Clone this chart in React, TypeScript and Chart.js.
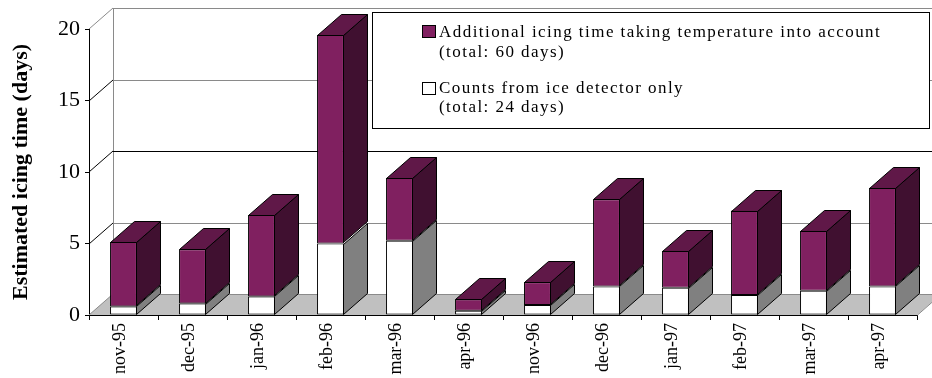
import { useEffect, useRef } from "react";
import { Chart, registerables } from "chart.js";

Chart.register(...registerables);

// Monthly icing time estimates (days)
const months = [
  "nov-95", "dec-95", "jan-96", "feb-96", "mar-96", "apr-96",
  "nov-96", "dec-96", "jan-97", "feb-97", "mar-97", "apr-97",
];
const detectorDays = [0.6, 0.8, 1.3, 5.0, 5.2, 0.3, 0.7, 2.0, 1.9, 1.4, 1.7, 2.0];
const additionalDays = [4.5, 3.8, 5.7, 14.6, 4.4, 0.8, 1.6, 6.1, 2.6, 5.9, 4.2, 6.9];

const yMax = 20;
const yStep = 5;

const legendItems = [
  { lines: ["Additional icing time taking temperature into account", "(total: 60 days)"], fill: "#802060" },
  { lines: ["Counts from ice detector only", "(total: 24 days)"], fill: "#ffffff" },
];

const SERIF = '"Liberation Serif", "Times New Roman", Times, serif';

// depth of the pseudo-3D box
const DX = 24;
const DY = 21;

const sideColors = ["#808080", "#401030"];
const topColors = ["#c0c0c0", "#601848"];

const wallLineColor = (v: number) => (v === 10 ? "#000000" : "#8a8a8a");
const diagLineColor = (v: number) => (v === 0 || v === yMax ? "#8a8a8a" : "#000000");

const depthPlugin = {
  id: "depth3d",
  beforeDatasetsDraw(chart: any) {
    const { ctx, chartArea, scales } = chart;
    const { left, right, bottom } = chartArea;
    const y = scales.y;
    ctx.save();
    ctx.lineWidth = 1;

    // floor
    const fb = Math.round(bottom);
    ctx.beginPath();
    ctx.moveTo(left, fb);
    ctx.lineTo(right, fb);
    ctx.lineTo(right + DX, fb - DY);
    ctx.lineTo(left + DX, fb - DY);
    ctx.closePath();
    ctx.fillStyle = "#c0c0c0";
    ctx.fill();
    ctx.strokeStyle = "#8a8a8a";
    ctx.beginPath();
    ctx.moveTo(right + 0.5, fb);
    ctx.lineTo(right + DX + 0.5, fb - DY);
    ctx.stroke();

    // back wall left edge
    const topPx = Math.round(y.getPixelForValue(yMax));
    ctx.strokeStyle = "#8a8a8a";
    ctx.beginPath();
    ctx.moveTo(left + DX + 0.5, topPx - DY);
    ctx.lineTo(left + DX + 0.5, fb - DY);
    ctx.stroke();

    // gridlines on the back wall and the side wall
    y.ticks.forEach((t: any) => {
      const v = t.value;
      const py = Math.round(y.getPixelForValue(v));
      ctx.strokeStyle = wallLineColor(v);
      ctx.beginPath();
      ctx.moveTo(left + DX, py - DY + 0.5);
      ctx.lineTo(right + DX + 20, py - DY + 0.5);
      ctx.stroke();
      ctx.strokeStyle = diagLineColor(v);
      ctx.beginPath();
      ctx.moveTo(left, py);
      ctx.lineTo(left + DX, py - DY);
      ctx.stroke();
    });
    ctx.restore();
  },
  afterDatasetsDraw(chart: any) {
    const { ctx } = chart;
    const n = chart.data.datasets.length;
    ctx.save();
    ctx.lineWidth = 1;
    ctx.strokeStyle = "#000000";
    ctx.lineJoin = "miter";
    for (let i = 0; i < n; i++) {
      const meta = chart.getDatasetMeta(i);
      meta.data.forEach((bar: any) => {
        const { x, y, base, width } = bar.getProps(["x", "y", "base", "width"], true);
        const xl = Math.round(x - width / 2) + 0.5;
        const xr = Math.round(x + width / 2) - 0.5;
        const yt = Math.round(y) + 0.5;
        const yb = Math.round(base) - 0.5;
        // right side face
        ctx.beginPath();
        ctx.moveTo(xr, yt);
        ctx.lineTo(xr + DX, yt - DY);
        ctx.lineTo(xr + DX, yb - DY);
        ctx.lineTo(xr, yb);
        ctx.closePath();
        ctx.fillStyle = sideColors[i];
        ctx.fill();
        ctx.stroke();
        // top face on the upper segment
        if (i === n - 1) {
          ctx.beginPath();
          ctx.moveTo(xl, yt);
          ctx.lineTo(xr, yt);
          ctx.lineTo(xr + DX, yt - DY);
          ctx.lineTo(xl + DX, yt - DY);
          ctx.closePath();
          ctx.fillStyle = topColors[i];
          ctx.fill();
          ctx.stroke();
        }
      });
    }
    ctx.restore();
  },
  afterDraw(chart: any) {
    const { ctx } = chart;
    ctx.save();
    // legend box
    const bx = 372.5, by = 12.5, bw = 557, bh = 116;
    ctx.fillStyle = "#ffffff";
    ctx.fillRect(bx, by, bw, bh);
    ctx.strokeStyle = "#000000";
    ctx.lineWidth = 1;
    ctx.strokeRect(bx, by, bw, bh);

    ctx.font = `17px ${SERIF}`;
    (ctx as any).letterSpacing = "1.45px";
    ctx.textBaseline = "alphabetic";
    ctx.textAlign = "left";
    const rows = [
      { swatchY: 25, baselines: [37, 57] },
      { swatchY: 82, baselines: [93, 112] },
    ];
    legendItems.forEach((item, i) => {
      const r = rows[i];
      ctx.fillStyle = item.fill;
      ctx.fillRect(422.5, r.swatchY + 0.5, 13, 12);
      ctx.strokeStyle = "#000000";
      ctx.strokeRect(422.5, r.swatchY + 0.5, 13, 12);
      ctx.fillStyle = "#000000";
      item.lines.forEach((line, k) => ctx.fillText(line, 439, r.baselines[k]));
    });
    ctx.restore();
  },
};

export default function App() {
  const canvasRef = useRef<HTMLCanvasElement | null>(null);

  useEffect(() => {
    document.body.style.margin = "0";
    const canvas = canvasRef.current;
    if (!canvas) return;
    const chart = new Chart(canvas, {
      type: "bar",
      data: {
        labels: months,
        datasets: [
          {
            label: "Counts from ice detector only",
            data: detectorDays,
            backgroundColor: "#ffffff",
            borderColor: "#000000",
            borderWidth: 1,
            borderSkipped: false,
          },
          {
            label: "Additional icing time taking temperature into account",
            data: additionalDays,
            backgroundColor: "#802060",
            borderColor: "#000000",
            borderWidth: 1,
            borderSkipped: false,
          },
        ],
      },
      options: {
        responsive: false,
        animation: false,
        events: [],
        layout: { padding: { top: 29, right: 15, left: 0, bottom: 0 } },
        datasets: { bar: { categoryPercentage: 1, barPercentage: 0.39 } },
        plugins: { legend: { display: false }, tooltip: { enabled: false } },
        scales: {
          x: {
            stacked: true,
            afterFit: (s: any) => { s.height = 63; },
            grid: { display: true, drawOnChartArea: false, drawTicks: true, tickLength: 5, color: "#000000", offset: true },
            border: { display: true, color: "#000000", width: 1 },
            ticks: {
              minRotation: 90,
              maxRotation: 90,
              autoSkip: false,
              padding: 3,
              labelOffset: -3,
              color: "#000000",
              font: { family: SERIF, size: 18 },
            },
          },
          y: {
            stacked: true,
            min: 0,
            max: yMax,
            afterFit: (s: any) => { s.width = 89; },
            grid: { display: true, drawOnChartArea: false, drawTicks: true, tickLength: 4, color: "#000000" },
            border: { display: true, color: "#000000", width: 1 },
            ticks: {
              stepSize: yStep,
              padding: 5,
              color: "#000000",
              font: { family: SERIF, size: 22 },
            },
            title: {
              display: true,
              text: "Estimated icing time (days)",
              color: "#000000",
              font: { family: SERIF, size: 22, weight: "bold" },
              padding: { top: 8, bottom: 0 },
            },
          },
        },
      },
      plugins: [depthPlugin],
    });
    return () => chart.destroy();
  }, []);

  return (
    <div style={{ position: "fixed", left: 0, top: 0, width: 932, height: 378, background: "#ffffff" }}>
      <canvas ref={canvasRef} width={932} height={378} />
    </div>
  );
}
